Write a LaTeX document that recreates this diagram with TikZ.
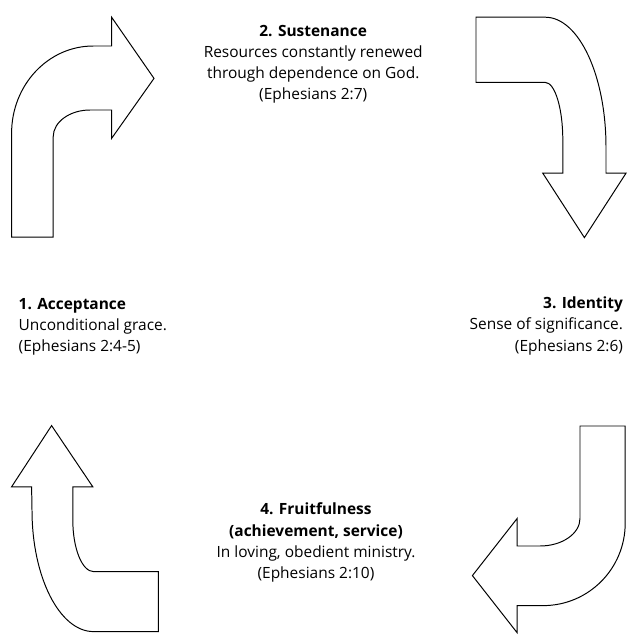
\documentclass[tikz,border=0pt]{standalone}
\usepackage{fontspec}
\setmainfont{Open Sans}
\begin{document}
\begin{tikzpicture}[line join=miter,
    bigarrow/.style={draw, line width=0.7pt, fill=white},
    stage/.style={inner sep=0pt, font=\fontsize{11}{15}\selectfont}]
  \useasboundingbox (0,0) rectangle (15.8,-15.925);
  % 1. Acceptance -> 2. Sustenance
  \draw[bigarrow] (0.29,-5.93) -- (1.33,-5.93) -- (1.33,-3.42)
    arc[start angle=180, end angle=90, x radius=0.92, y radius=0.67]
    -- (2.79,-2.75) -- (2.79,-3.46) -- (3.85,-1.96) -- (2.79,-0.43) -- (2.79,-1.15) -- (2.33,-1.15)
    arc[start angle=90, end angle=180, x radius=2.04, y radius=2.18] -- cycle;
  % 2. Sustenance -> 3. Identity
  \draw[bigarrow] (11.9,-0.43) -- (13.63,-0.43)
    arc[start angle=90, end angle=0, x radius=1.52, y radius=3.25]
    -- (15.15,-4.33) -- (15.65,-4.33) -- (14.61,-5.94) -- (13.57,-4.33) -- (14.07,-4.33) -- (14.07,-3.5)
    arc[start angle=0, end angle=90, x radius=0.44, y radius=1.44] -- (11.9,-2.06) -- cycle;
  % 3. Identity -> 4. Fruitfulness
  \draw[bigarrow] (14.5,-10.65) -- (15.63,-10.65) -- (15.63,-13.08)
    arc[start angle=0, end angle=-90, x radius=2.05, y radius=2.06]
    -- (12.93,-15.14) -- (12.93,-15.82) -- (11.81,-14.39) -- (12.93,-12.96) -- (12.93,-13.65) -- (13.5,-13.65)
    arc[start angle=-90, end angle=0, x radius=1.0, y radius=0.69] -- cycle;
  % 4. Fruitfulness -> 1. Acceptance
  \draw[bigarrow] (1.29,-10.64) -- (2.32,-12.17) -- (1.82,-12.17) -- (1.82,-13.0)
    arc[start angle=180, end angle=270, x radius=0.52, y radius=1.29]
    -- (3.96,-14.29) -- (3.96,-15.79) -- (2.34,-15.79)
    arc[start angle=270, end angle=180, x radius=1.54, y radius=3.04]
    -- (0.79,-12.17) -- (0.29,-12.17) -- cycle;
  % texts
  \node[stage, anchor=north west, align=left] (acc) at (0.46,-7.45)
    {\textbf{1. Acceptance}\\Unconditional grace.\\(Ephesians 2:4-5)};
  \node[stage, anchor=north, align=center] (sust) at (7.83,-0.62)
    {\textbf{2. Sustenance}\\Resources constantly renewed\\through dependence on God.\\(Ephesians 2:7)};
  \node[stage, anchor=north east, align=right] (ident) at (15.58,-7.42)
    {\textbf{3. Identity}\\Sense of significance.\\(Ephesians 2:6)};
  \node[stage, anchor=north, align=center] (fruit) at (7.9,-12.57)
    {\textbf{4. Fruitfulness}\\\textbf{(achievement, service)}\\In loving, obedient ministry.\\(Ephesians 2:10)};
\end{tikzpicture}
\end{document}
